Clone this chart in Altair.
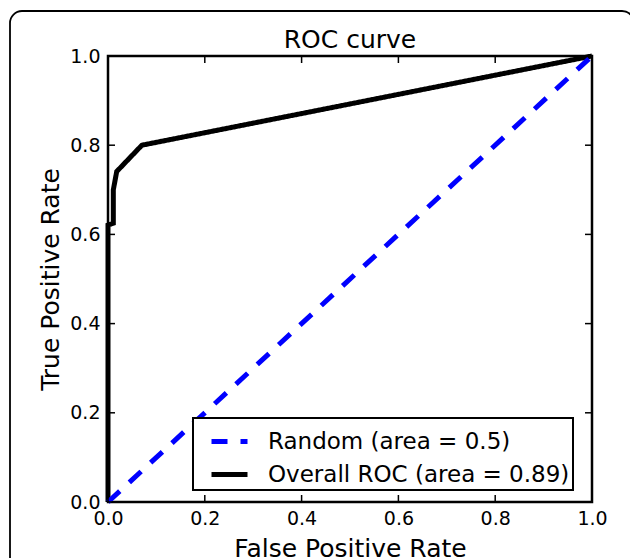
import altair as alt
import pandas as pd

# ---- data ----
series_names = ["Overall ROC (area = 0.89)", "Random (area = 0.5)"]
roc_fpr = [0.0, 0.0, 0.011, 0.011, 0.018, 0.07, 1.0]
roc_tpr = [0.0, 0.621, 0.625, 0.70, 0.741, 0.80, 1.0]
rand_fpr = [0.0, 1.0]
rand_tpr = [0.0, 1.0]
tick_values = [0.0, 0.2, 0.4, 0.6, 0.8, 1.0]

rows = []
for i, (a, b) in enumerate(zip(roc_fpr, roc_tpr)):
    rows.append({"series": series_names[0], "fpr": a, "tpr": b, "idx": i})
for i, (a, b) in enumerate(zip(rand_fpr, rand_tpr)):
    rows.append({"series": series_names[1], "fpr": a, "tpr": b, "idx": i})
df = pd.DataFrame(rows)

ticks_x = pd.DataFrame({"fpr": tick_values})
ticks_y = pd.DataFrame({"tpr": tick_values})

W, H = 484, 446
FONT = "DejaVu Sans"

x_enc = alt.X(
    "fpr:Q",
    scale=alt.Scale(domain=[0, 1], nice=False, zero=False),
    axis=alt.Axis(
        values=tick_values, format=".1f", title="False Positive Rate",
        labelPadding=7, labelFlush=False, labelOverlap=False,
        titleX=W / 2, titleY=54, titleBaseline="alphabetic", titleAlign="center",
    ),
)
y_enc = alt.Y(
    "tpr:Q",
    scale=alt.Scale(domain=[0, 1], nice=False, zero=False),
    axis=alt.Axis(
        values=tick_values, format=".1f", title="True Positive Rate",
        labelPadding=8, labelFlush=False, labelOverlap=False,
        titleX=-50, titleY=H / 2, titleBaseline="alphabetic", titleAlign="center",
        titleAngle=270,
    ),
)

frame = alt.Chart(alt.Data(values=[{"a": 1}])).mark_rect(
    fill="white", fillOpacity=0, stroke="black", strokeWidth=1.8, cornerRadius=12
).encode(
    x=alt.value(-98), x2=alt.value(526), y=alt.value(-45), y2=alt.value(H + 80)
)

lines = alt.Chart(df).mark_line(strokeWidth=5, strokeCap="butt").encode(
    x=x_enc,
    y=y_enc,
    color=alt.Color(
        "series:N",
        scale=alt.Scale(domain=[series_names[1], series_names[0]], range=["#0000ff", "#000000"]),
        legend=alt.Legend(title=None),
    ),
    strokeDash=alt.StrokeDash(
        "series:N",
        scale=alt.Scale(domain=[series_names[1], series_names[0]], range=[[16, 13], [1, 0]]),
        legend=alt.Legend(title=None),
    ),
    order=alt.Order("idx:Q"),
)

tick_style = dict(color="black", strokeWidth=1.5)
bottom_ticks = alt.Chart(ticks_x).mark_rule(**tick_style).encode(
    x=x_enc, y=alt.value(H), y2=alt.value(H - 7)
)
top_ticks = alt.Chart(ticks_x).mark_rule(**tick_style).encode(
    x=x_enc, y=alt.value(0), y2=alt.value(7)
)
left_ticks = alt.Chart(ticks_y).mark_rule(**tick_style).encode(
    y=y_enc, x=alt.value(0), x2=alt.value(7)
)
right_ticks = alt.Chart(ticks_y).mark_rule(**tick_style).encode(
    y=y_enc, x=alt.value(W), x2=alt.value(W - 7)
)

chart = alt.layer(
    frame, lines, bottom_ticks, top_ticks, left_ticks, right_ticks
).properties(
    width=W,
    height=H,
    title=alt.TitleParams(
        "ROC curve", fontSize=25, font=FONT, fontWeight="normal", color="black",
        anchor="middle", frame="group", baseline="alphabetic", offset=0, dy=63,
    ),
    autosize=alt.AutoSizeParams(type="none"),
    padding={"left": 108, "top": 56, "right": 38, "bottom": 56},
    background="white",
).configure_view(
    stroke="black", strokeWidth=2.5
).configure_axis(
    ticks=False, grid=False, domain=False,
    labelFont=FONT, labelFontSize=19, labelColor="black",
    titleFont=FONT, titleFontSize=25, titleFontWeight="normal", titleColor="black",
).configure_legend(
    orient="none", legendX=85, legendY=362,
    strokeColor="black", strokeWidth=2, fillColor="white", padding=3,
    labelFont=FONT, labelFontSize=23, labelColor="black", labelOffset=18,
    labelLimit=500,
    symbolType="stroke", symbolSize=1296, symbolStrokeWidth=5, symbolOffset=13,
    rowPadding=-3, cornerRadius=0,
)

chart.save("out.html", embed_options={"renderer": "svg", "actions": False})
